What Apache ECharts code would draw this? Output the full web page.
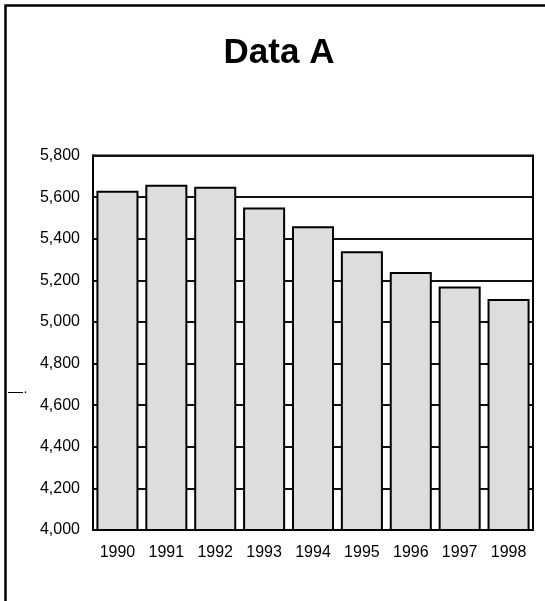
<!DOCTYPE html>
<html>
<head>
<meta charset="utf-8">
<script src="https://cdn.jsdelivr.net/npm/echarts@6/dist/echarts.min.js"></script>
<style>
  html, body { margin: 0; padding: 0; background: #fff; }
  #chart { width: 545px; height: 601px; }
</style>
</head>
<body>
<div id="chart"></div>
<script>
// Annual values, 1990–1998
const years = ['1990', '1991', '1992', '1993', '1994', '1995', '1996', '1997', '1998'];
const values = [5630, 5660, 5650, 5550, 5460, 5340, 5240, 5170, 5110];
const yMin = 4000;
const yMax = 5800;
const yStep = 200;

const font = '"Liberation Sans", Arial, sans-serif';
const chart = echarts.init(document.getElementById('chart'), null, { renderer: 'canvas' });

chart.setOption({
  animation: false,
  backgroundColor: '#ffffff',
  title: {
    text: 'Data A',
    left: 274,
    textAlign: 'center',
    top: 31,
    textStyle: { fontFamily: font, fontSize: 35, fontWeight: 'bold', color: '#000' }
  },
  grid: {
    left: 93, top: 155.5, right: 12, bottom: 71,
    show: true, borderColor: '#000', borderWidth: 2, backgroundColor: 'transparent'
  },
  xAxis: {
    type: 'category',
    data: years,
    axisLine: { show: true, lineStyle: { color: '#000', width: 2 } },
    axisTick: { show: false },
    axisLabel: { color: '#000', fontFamily: font, fontSize: 16, margin: 15 }
  },
  yAxis: {
    type: 'value',
    min: yMin,
    max: yMax,
    interval: yStep,
    axisLine: { show: true, lineStyle: { color: '#000', width: 2 } },
    axisTick: { show: false },
    axisLabel: {
      color: '#000', fontFamily: font, fontSize: 16, margin: 13,
      formatter: v => v.toLocaleString('en-US')
    },
    splitLine: { show: true, lineStyle: { color: '#111', width: 2 } }
  },
  series: [{
    type: 'bar',
    data: values,
    barCategoryGap: '14%',
    itemStyle: { color: '#dddddd', borderColor: '#000', borderWidth: 2 }
  }],
  graphic: [
    {
      type: 'rect',
      shape: { x: 5.5, y: 5.5, width: 700, height: 700 },
      style: { fill: 'none', stroke: '#000', lineWidth: 2.5 },
      silent: true
    },
    {
      type: 'text',
      left: 8,
      top: 384,
      style: { text: '—·', font: '15px ' + font, fill: '#000' }
    }
  ]
});
</script>
</body>
</html>
